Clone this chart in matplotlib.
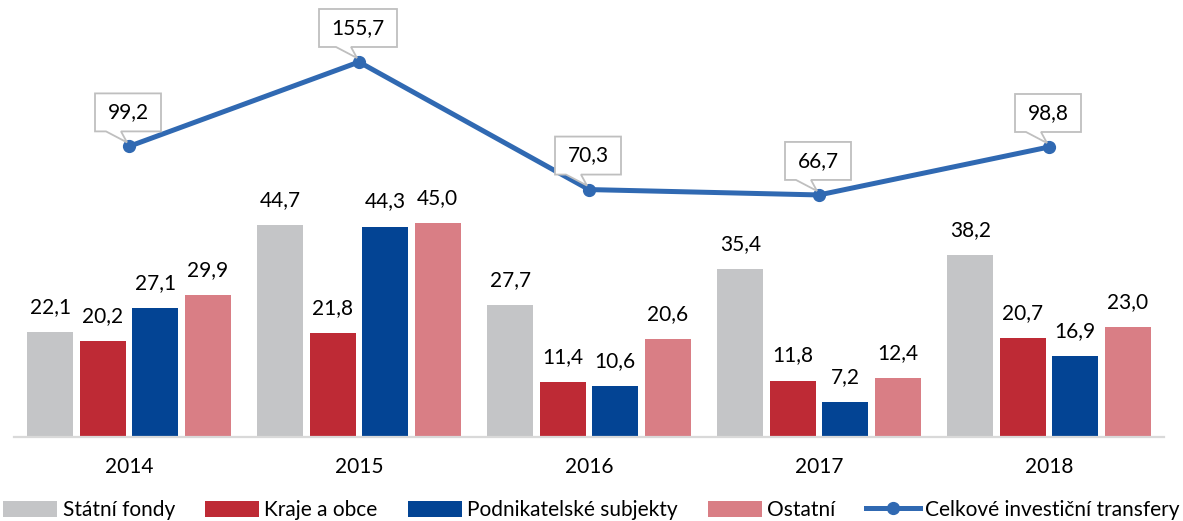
import matplotlib
matplotlib.use('Agg')
import numpy as np
import matplotlib.pyplot as plt
import matplotlib.transforms as mtransforms
from matplotlib.patches import Polygon, Patch
from matplotlib.lines import Line2D

plt.rcParams['font.family'] = ['Lato', 'DejaVu Sans']

# ---- data ----
years = ['2014', '2015', '2016', '2017', '2018']
statni_fondy = [22.1, 44.7, 27.7, 35.4, 38.2]
kraje_obce = [20.2, 21.8, 11.4, 11.8, 20.7]
podnikatele = [27.1, 44.3, 10.6, 7.2, 16.9]
ostatni = [29.9, 45.0, 20.6, 12.4, 23.0]
celkem = [99.2, 155.7, 70.3, 66.7, 98.8]

series = [
    ('Státní fondy', statni_fondy, '#C4C5C7'),
    ('Kraje a obce', kraje_obce, '#BE2A35'),
    ('Podnikatelské subjekty', podnikatele, '#034494'),
    ('Ostatní', ostatni, '#D97E85'),
]
line_label = 'Celkové investiční transfery'
line_color = '#3069B2'
FS = 15

W, H = 1183, 521
fig = plt.figure(figsize=(W / 100, H / 100), dpi=100)
ax = fig.add_axes([14 / W, 84.5 / H, 1150 / W, 436.5 / H])
ax2 = ax.twinx()


def fmt(v):
    return f'{v:.1f}'.replace('.', ',')


x = np.arange(len(years))
bw, step = 0.2, 0.228
for i, (name, vals, color) in enumerate(series):
    xs = x + (i - 1.5) * step
    ax.bar(xs, vals, width=bw, color=color, zorder=2)
    for xi, v in zip(xs, vals):
        ax.annotate(fmt(v), (xi, v), xytext=(0, 19), textcoords='offset pixels',
                    ha='center', va='baseline', fontsize=FS, color='black')

ax.set_xlim(-0.5, len(years) - 0.5)
ax.set_ylim(0, 436.5 / 4.74)
ax.set_xticks(x)
ax.set_xticklabels(years, fontsize=FS)
ax.tick_params(axis='x', length=0, pad=15)
ax.set_yticks([])
for s in ['top', 'left', 'right']:
    ax.spines[s].set_visible(False)
ax.spines['bottom'].set_color('#D9D9D9')
ax.spines['bottom'].set_linewidth(1.6)

# secondary axis for total line
ax2.plot(x, celkem, color=line_color, lw=3.6, marker='o', ms=8.5, zorder=3)
ax2.set_yticks([])
for s in ax2.spines.values():
    s.set_visible(False)


def callout(axis, xd, yd, text):
    # speech-bubble label, geometry in pixels relative to the marker
    trans = fig.dpi_scale_trans + mtransforms.ScaledTranslation(xd, yd, axis.transData)
    w = 66 if len(text) <= 4 else 78
    left, right = -w / 2 - 1, w / 2 - 1
    verts = np.array([(left, 15), (-23, 15), (-2, 4), (-8, 15), (right, 15),
                      (right, 53), (left, 53)]) / 100
    poly = Polygon(verts, closed=True, transform=trans, facecolor='white',
                   edgecolor='#BFBFBF', lw=1.3, zorder=6, clip_on=False)
    axis.add_patch(poly)
    axis.text(-1 / 100, 34 / 100, text, transform=trans, ha='center', va='center',
              fontsize=FS, color='black', zorder=7, clip_on=False)


for xi, v in zip(x, celkem):
    callout(ax2, xi, v, fmt(v))
ax2.set_ylim(-95, 197.2)

handles = [Patch(facecolor=c, edgecolor='none') for _, _, c in series]
handles.append(Line2D([], [], color=line_color, lw=3.6, marker='o', ms=8.5))
labels = [n for n, _, _ in series] + [line_label]
fig.legend(handles, labels, loc='center', bbox_to_anchor=(0.5, 11 / H), ncol=5,
           frameon=False, fontsize=15, handlelength=2.6, handleheight=0.8,
           handletextpad=0.25, columnspacing=1.45, borderpad=0, numpoints=1)

fig.savefig('out.png', dpi=100)
